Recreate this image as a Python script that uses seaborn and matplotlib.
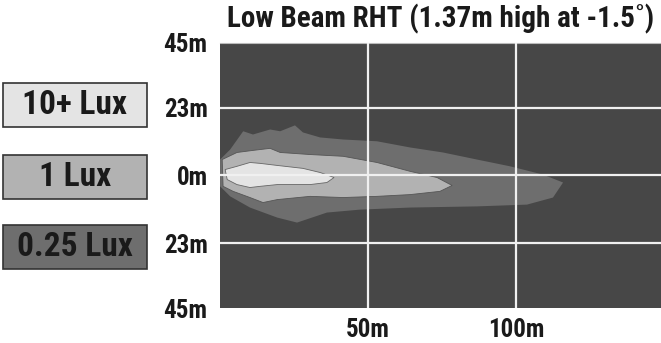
import matplotlib
matplotlib.use('Agg')
import matplotlib.pyplot as plt
import seaborn as sns
from matplotlib.patches import Rectangle

sns.set_style('white')
plt.rcParams['font.family'] = ['Roboto Condensed', 'Archivo Narrow', 'PT Sans Narrow',
                               'Barlow Condensed', 'DejaVu Sans']

# beam outline points (distance m, lateral m)
outer_x = [0, 3.4, 7.8, 11.1, 16.9, 20.3, 25.3, 28.0, 33.8, 41.6, 53.0, 64.2, 75.3, 86.8, 98.0, 109.1, 115.9,
           112.5, 103.7, 86.8, 64.2, 47.3, 36.1, 26.0, 19.3, 10.1, 3.4, 0]
outer_y = [5.4, 8.8, 15.0, 13.9, 15.6, 15.0, 17.0, 14.6, 12.9, 12.2, 11.6, 9.5, 7.8, 5.4, 3.1, 0.3, -2.4,
           -7.5, -9.9, -10.5, -10.9, -11.6, -12.6, -16.0, -14.3, -10.9, -7.1, -3.7]
mid_x = [0.7, 5.7, 11.1, 16.9, 20.3, 30.4, 41.6, 53.0, 64.2, 73.3, 78.4,
         74.3, 64.2, 53.0, 41.6, 30.4, 19.3, 14.5, 10.1, 4.4, 1.0]
mid_y = [5.4, 7.8, 8.5, 9.2, 7.8, 7.1, 6.5, 4.4, 1.4, -0.7, -3.4,
         -5.4, -6.5, -7.1, -7.5, -7.1, -8.2, -9.2, -7.5, -5.4, -3.7]
inner_x = [1.7, 5.7, 10.1, 13.5, 19.3, 28.0, 33.8, 38.5, 36.1, 30.4, 19.3, 13.5, 10.1, 5.7, 2.4]
inner_y = [2.0, 3.1, 4.4, 4.1, 3.4, 2.4, 1.0, -0.7, -2.4, -3.1, -3.1, -3.7, -4.1, -3.1, -1.4]

levels = ['10+ Lux', '1 Lux', '0.25 Lux']
level_colors = ['#e4e4e4', '#b2b2b2', '#6e6e6e']

x_ticks = [50, 100]
x_labels = ['50m', '100m']
y_ticks = [45, 23, 0, -23, -45]
y_labels = ['45m', '23m', '0m', '23m', '45m']

fig = plt.figure(figsize=(6.61, 3.43), dpi=100)
ax = fig.add_axes([0.333, 0.102, 0.667, 0.773])
ax.set_facecolor('#474747')

ax.fill(outer_x, outer_y, color=level_colors[2], lw=0, zorder=1)
ax.fill(mid_x, mid_y, facecolor=level_colors[1], edgecolor='#555555', lw=0.6, zorder=2)
ax.fill(inner_x, inner_y, facecolor=level_colors[0], edgecolor='#666666', lw=0.6, zorder=3)

ax.set_xlim(0, 149)
ax.set_ylim(-45, 45)
for v in x_ticks:
    ax.axvline(v, color='#f0f0f0', lw=1.6, zorder=4)
for v in [23, 0, -23]:
    ax.axhline(v, color='#f0f0f0', lw=1.6, zorder=4)

ax.set_xticks(x_ticks)
ax.set_xticklabels(x_labels)
ax.set_yticks(y_ticks)
ax.set_yticklabels(y_labels)
ax.tick_params(axis='both', length=0, labelsize=18, colors='#1a1a1a')
ax.tick_params(axis='x', pad=7)
ax.tick_params(axis='y', pad=9)
for lbl in ax.get_xticklabels() + ax.get_yticklabels():
    lbl.set_fontweight('bold')
for s in ax.spines.values():
    s.set_visible(False)
ax.spines['top'].set_visible(True)
ax.spines['top'].set_color('#bbbbbb')

fig.text(0.667, 0.945, 'Low Beam RHT (1.37m high at -1.5˚)', ha='center', va='center',
         fontsize=21, fontweight='bold', color='#1a1a1a')

# legend boxes on the left
box_tops = [83, 155, 225]
for name, col, top in zip(levels, level_colors, box_tops):
    x0 = 3 / 661
    y0 = 1 - (top + 44) / 343
    fig.patches.append(Rectangle((x0, y0), 144 / 661, 44 / 343, transform=fig.transFigure,
                                 facecolor=col, edgecolor='#333333', lw=1.2))
    fig.text(x0 + 72 / 661, y0 + 22 / 343, name, ha='center', va='center',
             fontsize=24, fontweight='bold', color='#1a1a1a')

fig.savefig('out.png', dpi=100)
